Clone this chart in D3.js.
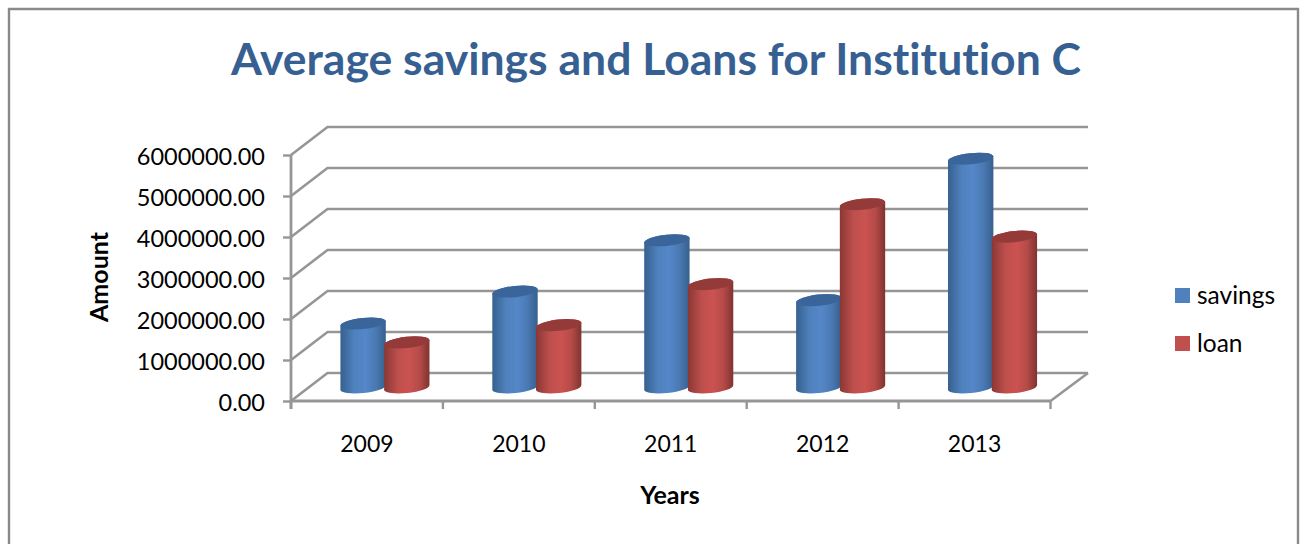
<!DOCTYPE html>
<html>
<head>
<meta charset="utf-8">
<style>
html,body{margin:0;padding:0;background:#fff;}
svg{display:block;}
text{font-family:Lato,"Open Sans",sans-serif;fill:#000;font-variant-ligatures:none;}
</style>
<script src="https://cdn.jsdelivr.net/npm/d3@7/dist/d3.min.js"></script>
</head>
<body>
<svg id="chart" width="1306" height="544"></svg>
<script>
// Yearly averages for the institution
const years = ["2009", "2010", "2011", "2012", "2013"];
const savings = [1560000, 2340000, 3590000, 2130000, 5580000];
const loan = [1100000, 1520000, 2520000, 4470000, 3680000];
const yTicks = [0, 1000000, 2000000, 3000000, 4000000, 5000000, 6000000];
const seriesNames = ["savings", "loan"];
const sideStops = [
  ["#36608f", "#4f81bd", "#5587c9", "#4a79b2", "#36608f"],
  ["#8a3735", "#bd4f4c", "#cb5350", "#b54b48", "#803331"]
];
const capColors = ["#39659a", "#943b39"];
const swatchColors = ["#4f81bd", "#c0504d"];

const svg = d3.select("#chart");
const grey = "#969696";

// Outer frame, open along the bottom of the page
svg.append("path").attr("d", "M9,544V9H1298V544")
  .attr("fill", "none").attr("stroke", "#8a8a8a").attr("stroke-width", 2.4);

// Front plane of the 3-D plot and the shift towards the back wall
const x = d3.scaleBand().domain(years).range([291, 1050.5]);
const y = d3.scaleLinear().domain([0, 6000000]).range([401, 155]);
const depth = { dx: 36.5, dy: -28 };
const barShift = { dx: 18, dy: -13.5 };

const chrome = svg.append("g").attr("fill", "none").attr("stroke", grey).attr("stroke-width", 2.6);

// Wall gridlines with their diagonal returns on the left side
yTicks.forEach(v => {
  const yy = y(v);
  chrome.append("path").attr("d", d3.line()([
    [x.range()[0], yy],
    [x.range()[0] + depth.dx, yy + depth.dy],
    [1088, yy + depth.dy]
  ]));
});
// Floor edge on the right
chrome.append("line").attr("x1", x.range()[1]).attr("y1", y(0))
  .attr("x2", 1088).attr("y2", y(0) + depth.dy);

// Value axis
const axisY = d3.axisLeft(y).tickValues(yTicks).tickSize(8).tickPadding(18)
  .tickFormat(d3.format(".2f"));
const gy = svg.append("g").attr("transform", `translate(${x.range()[0]},0)`).call(axisY);
gy.selectAll("path").attr("stroke", grey).attr("stroke-width", 2.8).attr("d", `M0,${y(6000000)}V${y(0) + 8}`);
gy.selectAll("line").attr("stroke", grey).attr("stroke-width", 2.4);
gy.selectAll("text").attr("font-size", 23.5).attr("fill", "#000").attr("dy", "0.42em");

// Category axis with ticks on the band boundaries
const gx = svg.append("g").attr("transform", `translate(0,${y(0)})`)
  .call(d3.axisBottom(x).tickSize(0).tickPadding(35));
gx.select("path").attr("stroke", grey).attr("stroke-width", 2.8).attr("d", `M${x.range()[0]},0H${x.range()[1]}`);
gx.selectAll("text").attr("font-size", 23).attr("fill", "#000");
const edges = years.map(d => x(d)).concat(x.range()[1]);
svg.append("g").selectAll("line").data(edges).join("line")
  .attr("x1", d => d).attr("x2", d => d).attr("y1", y(0)).attr("y2", y(0) + 8)
  .attr("stroke", grey).attr("stroke-width", 2.4);

// Horizontal shading that gives the columns their round look
const defs = svg.append("defs");
sideStops.forEach((stops, i) => {
  const g = defs.append("linearGradient").attr("id", "side" + i);
  stops.forEach((c, k) => g.append("stop")
    .attr("offset", [0, 0.3, 0.55, 0.78, 1][k]).attr("stop-color", c));
});

// Columns: one cylinder per value, with a tilted elliptical cap
const rx = 22.8, ry = 5.6, tilt = -6;
const rad = tilt * Math.PI / 180;
const ex = rx * Math.cos(rad), ey = rx * Math.sin(rad);
const barStep = 43.7;

function cylinderPath(cx, top, base) {
  return `M${cx - ex},${top - ey}L${cx - ex},${base - ey}` +
    `A${rx},${ry} ${tilt} 0 0 ${cx + ex},${base + ey}` +
    `L${cx + ex},${top + ey}` +
    `A${rx},${ry} ${tilt} 0 0 ${cx - ex},${top - ey}Z`;
}

[savings, loan].forEach((values, s) => {
  const rows = years.map((yr, i) => ({ yr, v: values[i] }));
  const centre = d => x(d.yr) + x.bandwidth() / 2 + barShift.dx + (s === 0 ? -barStep / 2 : barStep / 2);
  const g = svg.append("g").selectAll("g").data(rows).join("g");
  g.append("path")
    .attr("d", d => cylinderPath(centre(d), y(d.v) + barShift.dy, y(0) + barShift.dy))
    .attr("fill", `url(#side${s})`);
  g.append("ellipse")
    .attr("rx", rx).attr("ry", ry)
    .attr("transform", d => `translate(${centre(d)},${y(d.v) + barShift.dy}) rotate(${tilt})`)
    .attr("fill", capColors[s]);
});

// Title and axis titles
svg.append("text").attr("x", 656).attr("y", 75).attr("text-anchor", "middle")
  .attr("font-size", 44.5).attr("font-weight", 700).style("fill", "#376092")
  .text("Average savings and Loans for Institution C");
svg.append("text").attr("transform", "translate(107.5,277) rotate(-90)").attr("text-anchor", "middle")
  .attr("font-size", 25).attr("font-weight", 700).text("Amount");
svg.append("text").attr("x", 670).attr("y", 504).attr("text-anchor", "middle")
  .attr("font-size", 25).attr("font-weight", 700).text("Years");

// Legend
const legend = svg.append("g").selectAll("g").data(seriesNames).join("g")
  .attr("transform", (d, i) => `translate(1175,${288 + i * 48})`);
legend.append("rect").attr("width", 15).attr("height", 15).attr("fill", (d, i) => swatchColors[i]);
legend.append("text").attr("x", 22).attr("y", 16).attr("font-size", 24.5).text(d => d);
</script>
</body>
</html>
